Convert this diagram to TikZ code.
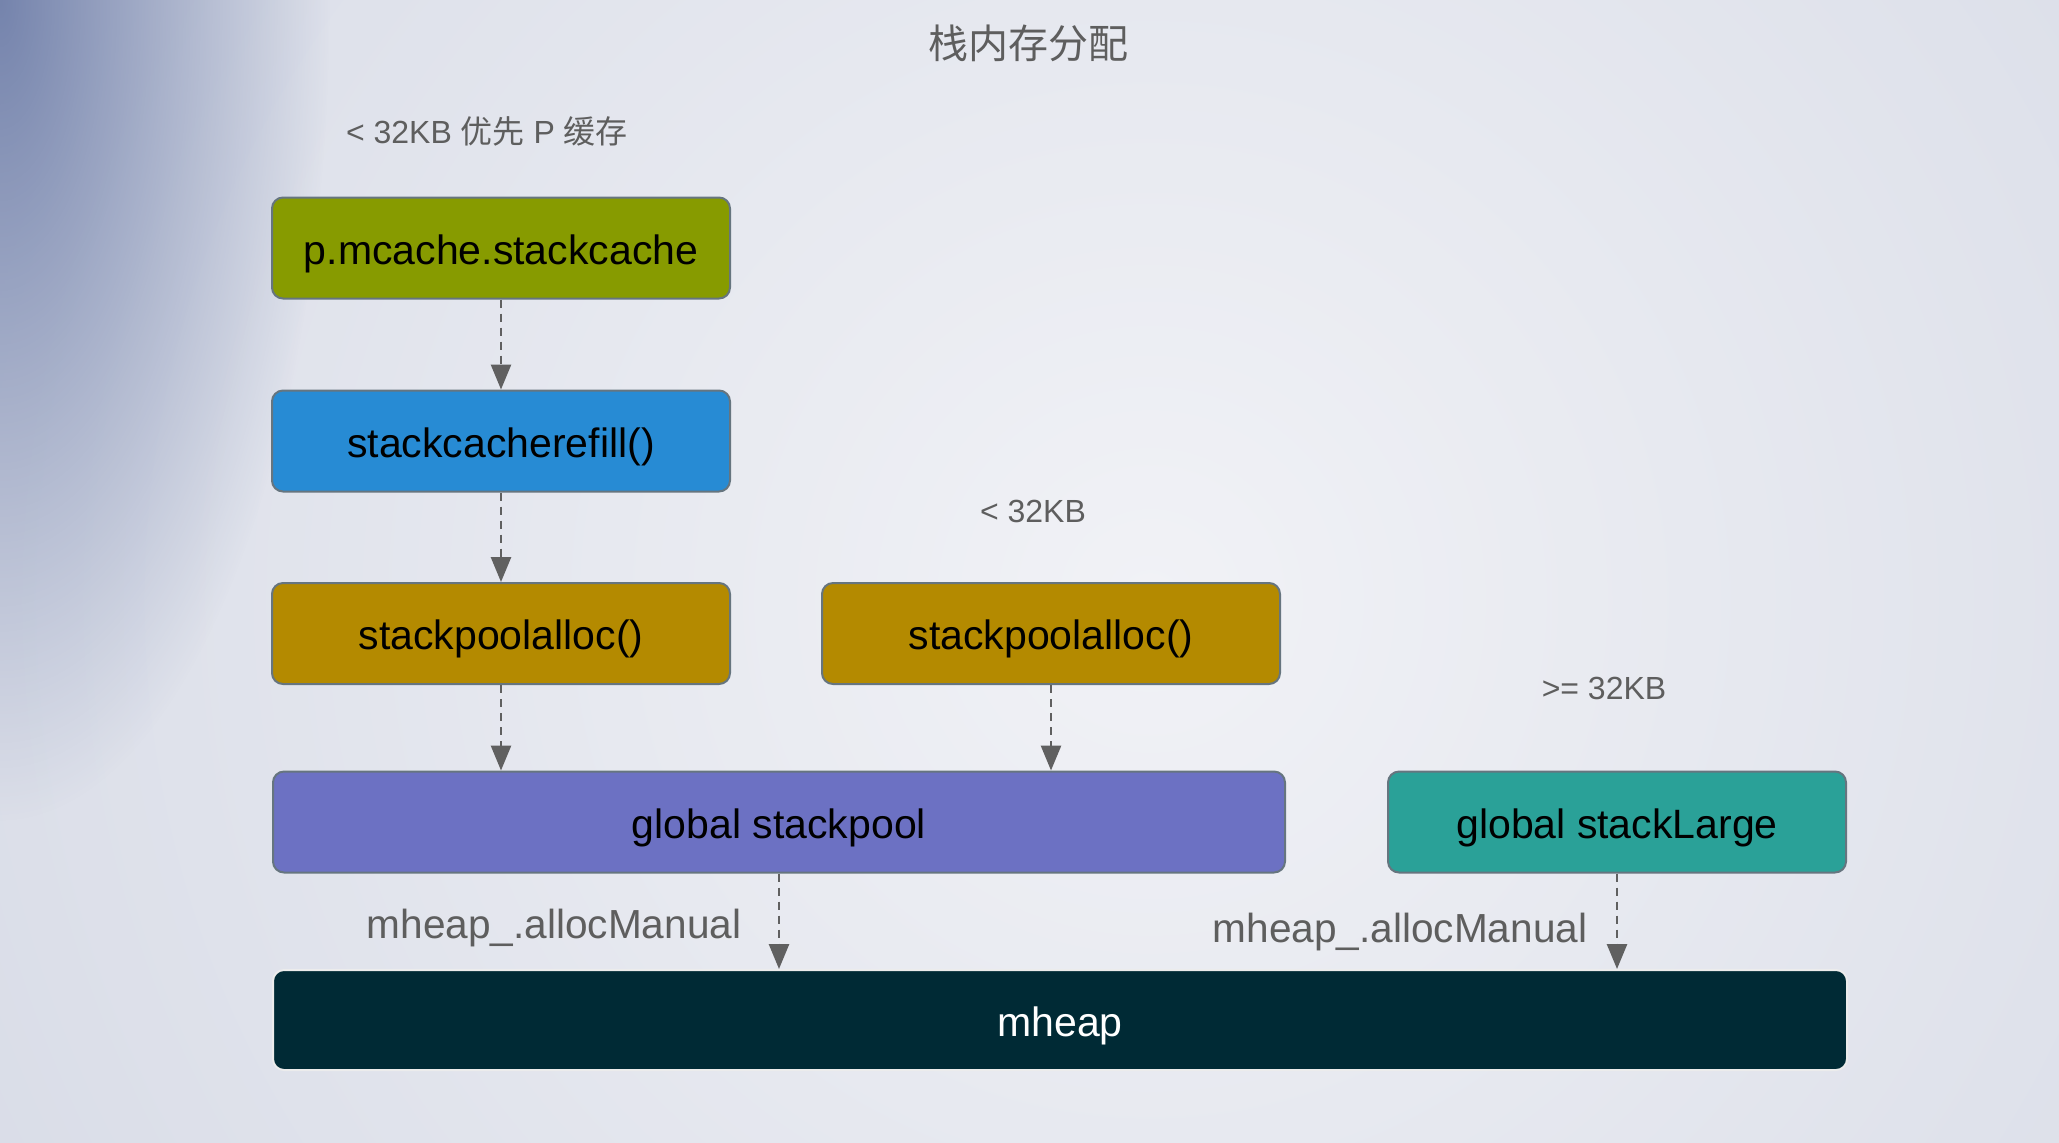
\documentclass[tikz,border=0pt]{standalone}
\usepackage{fontspec}
\setmainfont{Liberation Sans}
\newfontfamily\cjk{Noto Sans CJK SC}
\usetikzlibrary{arrows.meta,fadings}
\definecolor{bgin}{HTML}{F1F2F6}
\definecolor{bgout}{HTML}{C3C9DA}
\definecolor{corner}{HTML}{6A7AA6}
\definecolor{cgreen}{HTML}{879B00}
\definecolor{cblue}{HTML}{278BD4}
\definecolor{cyellow}{HTML}{B48A00}
\definecolor{cviolet}{HTML}{6C71C3}
\definecolor{ccyan}{HTML}{2AA198}
\definecolor{cbase}{HTML}{002A35}
\definecolor{edge}{HTML}{66757F}
\definecolor{arrowgray}{HTML}{606060}
\definecolor{labelgray}{HTML}{5E5E5E}
\tikzfading[name=cornerfade, inner color=transparent!10, outer color=transparent!100]
\tikzset{
  box/.style={draw=edge, line width=1pt, rounded corners=5.5pt, inner sep=0pt,
    minimum width=229pt, minimum height=50.5pt, text=black,
    text height=18.2pt, text depth=2.2pt,
    font=\fontsize{20.5}{24}\selectfont},
  conn/.style={draw=arrowgray, line width=1.35pt, dash pattern=on 4pt off 3pt,
    -{Triangle[width=10pt,length=12.5pt]}},
  lbl/.style={text=labelgray, inner sep=0pt, text height=17.5pt, text depth=2.3pt,
    font=\fontsize{20.3}{25}\selectfont},
  small/.style={text=labelgray, inner sep=0pt, font=\fontsize{16}{19}\selectfont},
}
\begin{document}
\begin{tikzpicture}[x=0.5pt,y=-0.5pt]
\useasboundingbox (0,0) rectangle (2059,1142);
\begin{scope}
\clip (0,0) rectangle (2059,1142);
\fill[bgout] (0,0) rectangle (2059,1142);
\shade[inner color=bgin, outer color=bgout] (1150,600) circle (2500);
\fill[corner, path fading=cornerfade] (0,0) ellipse (330 and 820);
\end{scope}

\node[text=labelgray, inner sep=0pt, font=\cjk\fontsize{20}{24}\selectfont] (title) at (1028,43) {栈内存分配};
\node[small] (pcachelbl) at (487,131) {< 32KB {\cjk 优先} P {\cjk 缓存}};
\node[small] (smalllbl) at (1033,511) {< 32KB};
\node[small] (largelbl) at (1604,688) {>= 32KB};

\node[box, fill=cgreen] (cache) at (501,248) {p.mcache.stackcache};
\node[box, fill=cblue] (refill) at (501,441) {stackcacherefill()};
\node[box, fill=cyellow] (poolL) at (501,633.5) {stackpoolalloc()};
\node[box, fill=cyellow] (poolR) at (1051,633.5) {stackpoolalloc()};
\node[box, fill=cviolet, minimum width=506pt] (gpool) at (779,822) {global stackpool};
\node[box, fill=ccyan] (glarge) at (1617,822) {global stackLarge};
\node[box, fill=cbase, draw=white!85!gray, text=white, minimum width=787pt, minimum height=50pt] (mheap) at (1060,1020) {mheap};

\draw[conn] (cache.south) -- (refill.north);
\draw[conn] (refill.south) -- (poolL.north);
\draw[conn] (poolL.south) -- (poolL.south |- gpool.north);
\draw[conn] (poolR.south) -- (poolR.south |- gpool.north);
\draw[conn] (gpool.south) -- (gpool.south |- mheap.north);
\draw[conn] (glarge.south) -- (glarge.south |- mheap.north);

\node[lbl] (allocL) at (554,923) {mheap\_.allocManual};
\node[lbl] (allocR) at (1400,927) {mheap\_.allocManual};
\end{tikzpicture}
\end{document}
